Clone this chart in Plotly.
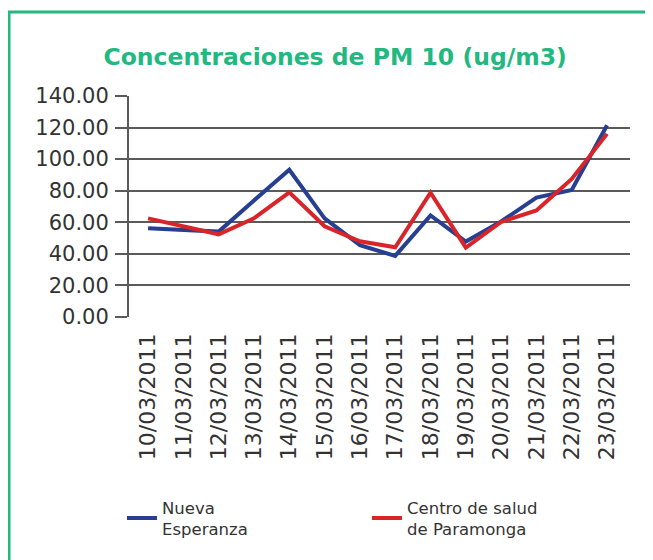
import plotly.graph_objects as go

# ── data ──────────────────────────────────────────────────────────────────────
fechas = [
    "10/03/2011", "11/03/2011", "12/03/2011", "13/03/2011", "14/03/2011",
    "15/03/2011", "16/03/2011", "17/03/2011", "18/03/2011", "19/03/2011",
    "20/03/2011", "21/03/2011", "22/03/2011", "23/03/2011",
]
nueva_esperanza = [56.2, 55.1, 54.1, 73.8, 93.3, 62.5, 45.5, 38.7,
                   64.4, 47.8, 60.5, 75.6, 80.5, 121.5]
centro_salud = [62.5, 57.5, 52.4, 62.5, 79.0, 57.5, 48.0, 44.2,
                78.8, 43.9, 60.2, 67.5, 87.5, 116.0]
y_ticks = [0, 20, 40, 60, 80, 100, 120, 140]

# ── colours ───────────────────────────────────────────────────────────────────
_GREEN = "#22b87f"
_BLUE  = "#263f90"
_RED   = "#d92429"
_GRID  = "#5a5a5a"
_TEXT  = "#333333"
_FONT  = "DejaVu Sans, sans-serif"

fig = go.Figure([
    go.Scatter(x=fechas, y=nueva_esperanza, mode="lines",
               name="Nueva<br>Esperanza",
               line=dict(color=_BLUE, width=4)),
    go.Scatter(x=fechas, y=centro_salud, mode="lines",
               name="Centro de salud<br>de Paramonga",
               line=dict(color=_RED, width=4)),
])

# page body adds an 8px margin, so everything sits 8px up/left of the target
fig.update_layout(
    width=653, height=560,
    paper_bgcolor="white", plot_bgcolor="white",
    font=dict(family=_FONT, color=_TEXT),
    margin=dict(l=121, r=31, t=88, b=251, autoexpand=False),
    title=dict(text="<b>Concentraciones de PM 10 (ug/m3)</b>",
               font=dict(size=23.5, color=_GREEN),
               x=0.501, xanchor="center", xref="container",
               y=0.913, yanchor="middle", yref="container"),
    xaxis=dict(
        type="category", range=[-0.54, 13.65], automargin=False,
        showgrid=False, zeroline=False, showline=False,
        ticks="", tickangle=-90,
        tickfont=dict(size=22, color=_TEXT),
        ticklabelstandoff=11,
    ),
    yaxis=dict(
        range=[0, 140], tickvals=y_ticks, tickformat=".2f", automargin=False,
        showgrid=True, gridcolor=_GRID, gridwidth=2,
        zeroline=False, showline=True, linecolor=_GRID, linewidth=2,
        ticks="outside", ticklen=12, tickwidth=2, tickcolor=_GRID,
        tickfont=dict(size=21, color=_TEXT),
        ticklabelstandoff=2,
    ),
    showlegend=True,
    legend=dict(
        orientation="h", xref="container", yref="container",
        x=0.1746, xanchor="left", y=0.139, yanchor="top",
        entrywidth=200, font=dict(size=16.5, color=_TEXT),
        bgcolor="rgba(0,0,0,0)",
    ),
    shapes=[dict(
        type="rect", xref="paper", yref="paper",
        x0=-0.2395, x1=1.1, y0=-1.2, y1=1.380,
        line=dict(color=_GREEN, width=3), layer="below",
    )],
)

fig.write_html("out.html")
